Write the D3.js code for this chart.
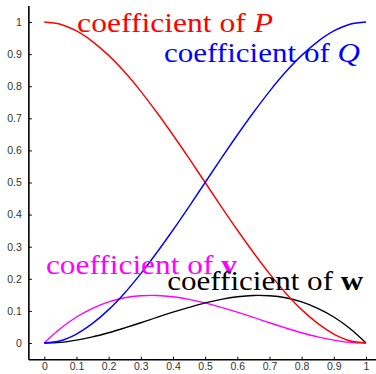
<!DOCTYPE html>
<html><head><meta charset="utf-8">
<script src="https://cdn.jsdelivr.net/npm/d3@7"></script>
<style>html,body{margin:0;padding:0;background:#fff;}svg{display:block;}</style>
</head><body>
<svg id="c" width="376" height="374"></svg>
<script>
const tValues = [0,0.05,0.1,0.15,0.2,0.25,0.3,0.35,0.4,0.45,0.5,0.55,0.6,0.65,0.7,0.75,0.8,0.85,0.9,0.95,1];
const coefP = [1,0.993,0.972,0.939,0.896,0.844,0.784,0.718,0.648,0.575,0.5,0.425,0.352,0.282,0.216,0.156,0.104,0.061,0.028,0.007,0];
const coefQ = [0,0.007,0.028,0.061,0.104,0.156,0.216,0.282,0.352,0.425,0.5,0.575,0.648,0.718,0.784,0.844,0.896,0.939,0.972,0.993,1];
const coefV = [0,0.045,0.081,0.108,0.128,0.141,0.147,0.148,0.144,0.136,0.125,0.111,0.096,0.080,0.063,0.047,0.032,0.019,0.009,0.002,0];
const coefW = [0,0.002,0.009,0.019,0.032,0.047,0.063,0.080,0.096,0.111,0.125,0.136,0.144,0.148,0.147,0.141,0.128,0.108,0.081,0.045,0];
const xTicks = [0,0.1,0.2,0.3,0.4,0.5,0.6,0.7,0.8,0.9,1];
const yTicks = [0,0.1,0.2,0.3,0.4,0.5,0.6,0.7,0.8,0.9,1];
const seriesNames = ["P","Q","v","w"];
const seriesColors = ["#ff0000","#0000ff","#ff00ff","#000000"];

const svg = d3.select("#c");
const x = d3.scaleLinear().domain([0,1]).range([44.3,366]);
const y = d3.scaleLinear().domain([0,1]).range([343,22]);

// axes
const xAxis = d3.axisBottom(x).tickValues(xTicks).tickSizeInner(-3).tickSizeOuter(0).tickPadding(3)
  .tickFormat(d => d3.format("")(d));
const yAxis = d3.axisLeft(y).tickValues(yTicks).tickSizeInner(-3).tickSizeOuter(0).tickPadding(7)
  .tickFormat(d => d3.format("")(d));

const gx = svg.append("g").attr("transform",`translate(0,${y(-0.052)})`).call(xAxis);
gx.select(".domain").attr("d",`M${x(-0.048)},0H376`);
const gy = svg.append("g").attr("transform",`translate(${x(-0.048)},0)`).call(yAxis);
gy.select(".domain").attr("d",`M0,${y(1.05)}V${y(-0.052)}`);
[gx,gy].forEach(g=>{
  g.select(".domain").attr("stroke","#000").attr("stroke-width",1.6);
  g.selectAll(".tick line").attr("stroke","#000").attr("stroke-width",1);
  g.selectAll(".tick text").attr("fill","#333").style("font-family","'Liberation Sans',Arial,sans-serif").style("font-size","10.5px");
});
gx.selectAll(".tick text").attr("dy","0.72em");

const line = d3.line().x((d,i)=>x(tValues[i])).y(d=>y(d)).curve(d3.curveCatmullRom);
[coefV, coefW, coefP, coefQ].forEach((arr,k)=>{
  const col = [seriesColors[2],seriesColors[3],seriesColors[0],seriesColors[1]][k];
  svg.append("path").attr("d",line(arr)).attr("fill","none").attr("stroke",col).attr("stroke-width",1.4);
});

// labels
const labels = [
  {name:seriesNames[0], color:seriesColors[0], tx:0.102, ty:0.969, width:196, style:"italic", weight:"normal"},
  {name:seriesNames[1], color:seriesColors[1], tx:0.372, ty:0.875, width:196, style:"italic", weight:"normal"},
  {name:seriesNames[2], color:seriesColors[2], tx:0.005, ty:0.215, width:191, style:"normal", weight:"bold"},
  {name:seriesNames[3], color:seriesColors[3], tx:0.382, ty:0.165, width:196, style:"normal", weight:"bold"}
];
labels.forEach(l=>{
  const t = svg.append("text").attr("x",x(l.tx)).attr("y",y(l.ty))
    .attr("fill",l.color).style("font-family","'Liberation Serif','Times New Roman',serif").style("font-size","27px")
    .attr("textLength",l.width).attr("lengthAdjust","spacingAndGlyphs");
  t.append("tspan").text("coefficient of ");
  t.append("tspan").text(l.name).style("font-style",l.style).style("font-weight",l.weight);
});
</script>
</body></html>
